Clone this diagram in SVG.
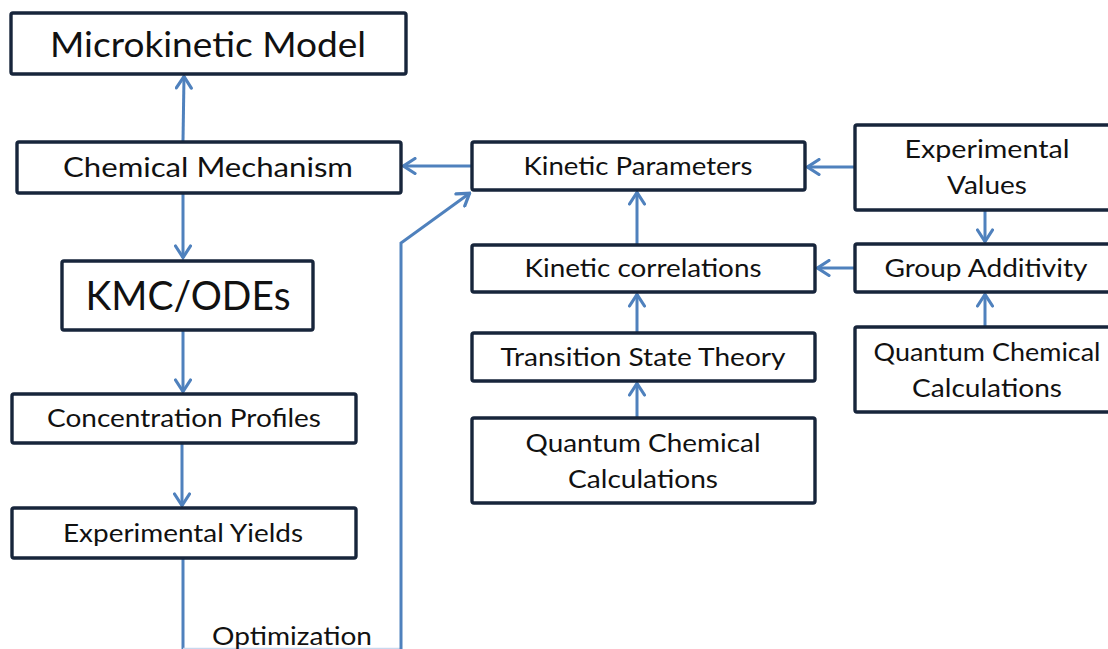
<svg xmlns="http://www.w3.org/2000/svg" width="1108" height="649" viewBox="0 0 1108 649">
  <style>
    .box { fill: #ffffff; stroke: #17253b; stroke-width: 3.4; }
    .lbl { font-family: Lato, "Open Sans", "Liberation Sans", sans-serif; fill: #111111; text-anchor: middle; }
    .edge { fill: none; stroke: #4f81bd; stroke-width: 3; }
  </style>
  <defs>
    <marker id="chev" viewBox="0 0 16 18" refX="14.5" refY="9" markerWidth="16" markerHeight="18" markerUnits="userSpaceOnUse" orient="auto">
      <path d="M2.5,1.5 L14,9 L2.5,16.5" fill="none" stroke="#4f81bd" stroke-width="3.2" stroke-linecap="round" stroke-linejoin="miter"/>
    </marker>
  </defs>

  <rect width="1108" height="649" fill="#ffffff"/>

  <!-- connectors -->
  <g id="connectors">
    <line class="edge" x1="183" y1="141" x2="184" y2="76" marker-end="url(#chev)"/>
    <line class="edge" x1="183" y1="194" x2="183" y2="258" marker-end="url(#chev)"/>
    <line class="edge" x1="183" y1="331" x2="183" y2="392" marker-end="url(#chev)"/>
    <line class="edge" x1="182" y1="444" x2="182" y2="506" marker-end="url(#chev)"/>
    <line class="edge" x1="472" y1="166" x2="403" y2="166" marker-end="url(#chev)"/>
    <line class="edge" x1="855" y1="167" x2="807" y2="167" marker-end="url(#chev)"/>
    <line class="edge" x1="985" y1="211" x2="985" y2="242" marker-end="url(#chev)"/>
    <line class="edge" x1="855" y1="268" x2="817" y2="268" marker-end="url(#chev)"/>
    <line class="edge" x1="985" y1="327" x2="985" y2="294" marker-end="url(#chev)"/>
    <line class="edge" x1="637" y1="245" x2="637" y2="192" marker-end="url(#chev)"/>
    <line class="edge" x1="637" y1="333" x2="637" y2="294" marker-end="url(#chev)"/>
    <line class="edge" x1="637" y1="418" x2="637" y2="383" marker-end="url(#chev)"/>
    <!-- optimization feedback loop -->
    <polyline class="edge" points="183,559 183,649"/>
    <line x1="183" y1="648.5" x2="400" y2="648.5" stroke="#c9d8ee" stroke-width="1.5"/>
    <polyline class="edge" points="401,649 401,243 470,193" marker-end="url(#chev)"/>
    <text class="lbl" x="292" y="645" font-size="25" textLength="160" lengthAdjust="spacingAndGlyphs">Optimization</text>
  </g>

  <!-- left column -->
  <g id="microkinetic-model">
    <rect class="box" x="11" y="13" width="395" height="61" rx="2"/>
    <text class="lbl" x="208" y="57" font-size="34" textLength="316" lengthAdjust="spacingAndGlyphs">Microkinetic Model</text>
  </g>
  <g id="chemical-mechanism">
    <rect class="box" x="17" y="142" width="384" height="51" rx="2"/>
    <text class="lbl" x="208" y="177" font-size="27" textLength="290" lengthAdjust="spacingAndGlyphs">Chemical Mechanism</text>
  </g>
  <g id="kmc-odes">
    <rect class="box" x="62" y="261" width="251" height="69" rx="2"/>
    <text class="lbl" x="188" y="310" font-size="41" textLength="205" lengthAdjust="spacingAndGlyphs">KMC/ODEs</text>
  </g>
  <g id="concentration-profiles">
    <rect class="box" x="12" y="394" width="344" height="49" rx="2"/>
    <text class="lbl" x="184" y="427" font-size="25" textLength="274" lengthAdjust="spacingAndGlyphs">Concentration Profiles</text>
  </g>
  <g id="experimental-yields">
    <rect class="box" x="12" y="508" width="344" height="50" rx="2"/>
    <text class="lbl" x="183" y="542" font-size="25" textLength="240" lengthAdjust="spacingAndGlyphs">Experimental Yields</text>
  </g>

  <!-- middle column -->
  <g id="kinetic-parameters">
    <rect class="box" x="472" y="142" width="333" height="48" rx="2"/>
    <text class="lbl" x="638" y="175" font-size="25" textLength="229" lengthAdjust="spacingAndGlyphs">Kinetic Parameters</text>
  </g>
  <g id="kinetic-correlations">
    <rect class="box" x="472" y="245" width="343" height="47" rx="2"/>
    <text class="lbl" x="643" y="277" font-size="25" textLength="237" lengthAdjust="spacingAndGlyphs">Kinetic correlations</text>
  </g>
  <g id="transition-state-theory">
    <rect class="box" x="472" y="333" width="343" height="48" rx="2"/>
    <text class="lbl" x="643" y="366" font-size="25" textLength="285" lengthAdjust="spacingAndGlyphs">Transition State Theory</text>
  </g>
  <g id="quantum-chemical-mid">
    <rect class="box" x="472" y="418" width="343" height="85" rx="2"/>
    <text class="lbl" x="643" y="452" font-size="25" textLength="235" lengthAdjust="spacingAndGlyphs">Quantum Chemical</text>
    <text class="lbl" x="643" y="488" font-size="25" textLength="150" lengthAdjust="spacingAndGlyphs">Calculations</text>
  </g>

  <!-- right column -->
  <g id="experimental-values">
    <rect class="box" x="855" y="125" width="260" height="85" rx="2"/>
    <text class="lbl" x="987" y="158" font-size="25" textLength="165" lengthAdjust="spacingAndGlyphs">Experimental</text>
    <text class="lbl" x="987" y="194" font-size="25" textLength="80" lengthAdjust="spacingAndGlyphs">Values</text>
  </g>
  <g id="group-additivity">
    <rect class="box" x="855" y="244" width="260" height="48" rx="2"/>
    <text class="lbl" x="986" y="277" font-size="25" textLength="203" lengthAdjust="spacingAndGlyphs">Group Additivity</text>
  </g>
  <g id="quantum-chemical-right">
    <rect class="box" x="855" y="327" width="260" height="85" rx="2"/>
    <text class="lbl" x="987" y="361" font-size="25" textLength="227" lengthAdjust="spacingAndGlyphs">Quantum Chemical</text>
    <text class="lbl" x="987" y="397" font-size="25" textLength="150" lengthAdjust="spacingAndGlyphs">Calculations</text>
  </g>
</svg>
